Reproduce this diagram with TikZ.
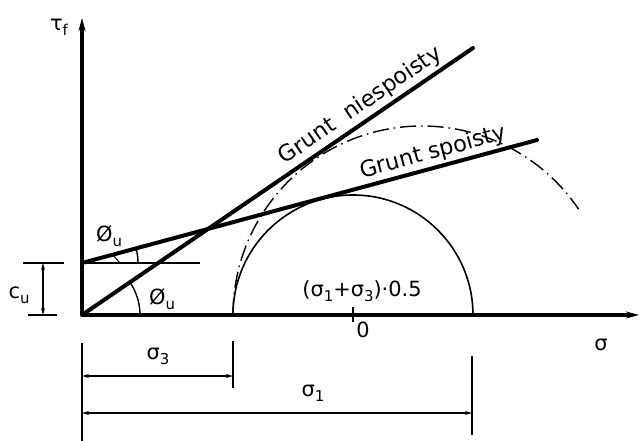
\documentclass[tikz,border=0pt]{standalone}
\usepackage{fontspec}
\setmainfont{DejaVu Sans}
\usetikzlibrary{arrows.meta}
\newcommand\lowsub[1]{\raisebox{-0.45ex}{\fontsize{15}{15}\selectfont #1}}
\begin{document}
\begin{tikzpicture}[x=1bp,y=-1bp,
  axisline/.style={line width=3.2bp,-{Stealth[length=13bp,width=7bp]}},
  envelope/.style={line width=4bp,line cap=round},
  thinline/.style={line width=1.4bp},
  dimline/.style={line width=1.3bp,{Stealth[length=7bp,width=4bp]}-{Stealth[length=7bp,width=4bp]}},
  lbl/.style={font=\fontsize{21}{23}\selectfont,inner sep=1bp},
  biglbl/.style={font=\fontsize{22.5}{24}\selectfont,inner sep=1bp},
  mohr/.style={line width=1.6bp},
  mohrdash/.style={line width=1.4bp,dash pattern=on 16bp off 5bp on 1.5bp off 5bp}]
\useasboundingbox (0,0) rectangle (641,441);
% axes
\coordinate (O) at (82,315);
\coordinate (Ytop) at (82,18);
\coordinate (Xend) at (639,315);
\draw[axisline] (O) -- (Ytop);
\draw[axisline] (O) -- (Xend);
\node[lbl] (tau) at (59,27) {τ\lowsub{f}};
\node[lbl] (sig) at (601,345) {σ};
% Mohr circles
\coordinate (s3) at (233,315);
\coordinate (s1) at (473,315);
\draw[mohr] (s3) arc[start angle=180,end angle=360,radius=120];
\draw[mohrdash] (s3) arc[start angle=180,end angle=326,radius=189];
% centre tick
\coordinate (tickt) at (353,307);
\coordinate (tickb) at (353,322);
\draw[thinline] (tickt) -- (tickb);
\node[lbl] (zero) at (363,330) {0};
\node[lbl] (mid) at (362,291) {(σ\lowsub{1}+σ\lowsub{3})·0.5};
% cohesion line
\coordinate (C) at (82,263);
\coordinate (Ch) at (200,263);
\draw[thinline] (C) -- (Ch);
% envelopes
\coordinate (Nend) at (473,48);
\coordinate (Send) at (537,140);
\draw[envelope] (O) -- node[pos=0.735,sloped,above=2bp,biglbl] (nlab) {Grunt\ \ niespoisty} (Nend);
\draw[envelope] (C) -- node[pos=0.78,sloped,above=1bp,biglbl] (slab) {Grunt spoisty} (Send);
% friction angles
\draw[thinline] (138,263) arc[start angle=0,end angle=-15.3,radius=56];
\draw[thinline] (140,315) arc[start angle=0,end angle=-34.3,radius=58];
\node[lbl] (phi1) at (109,236) {Ø\lowsub{u}};
\node[lbl] (phi2) at (162,299) {Ø\lowsub{u}};
\coordinate (lk1) at (112,254);
\coordinate (lk2) at (120,263);
\draw[line width=1bp] (lk1) -- (lk2);
% c_u dimension
\coordinate (cut1) at (23,263);
\coordinate (cut2) at (64,263);
\coordinate (cub1) at (28,315);
\coordinate (cub2) at (57,315);
\draw[thinline] (cut1) -- (cut2);
\draw[thinline] (cub1) -- (cub2);
\coordinate (cua) at (43,263);
\coordinate (cub) at (43,315);
\draw[dimline] (cua) -- (cub);
\node[lbl] (cu) at (19,295) {c\lowsub{u}};
% sigma dimensions
\coordinate (e0t) at (82,343);
\coordinate (e0b) at (82,441);
\coordinate (e3t) at (233,341);
\coordinate (e3b) at (233,388);
\coordinate (e1t) at (472,356);
\coordinate (e1b) at (472,435);
\draw[thinline] (e0t) -- (e0b);
\draw[thinline] (e3t) -- (e3b);
\draw[thinline] (e1t) -- (e1b);
\coordinate (d3a) at (82,376);
\coordinate (d3b) at (233,376);
\coordinate (d1a) at (82,413);
\coordinate (d1b) at (472,413);
\draw[dimline] (d3a) -- (d3b);
\draw[dimline] (d1a) -- (d1b);
\node[lbl] (sig3) at (158,356) {σ\lowsub{3}};
\node[lbl] (sig1) at (313,393) {σ\lowsub{1}};
\end{tikzpicture}
\end{document}
